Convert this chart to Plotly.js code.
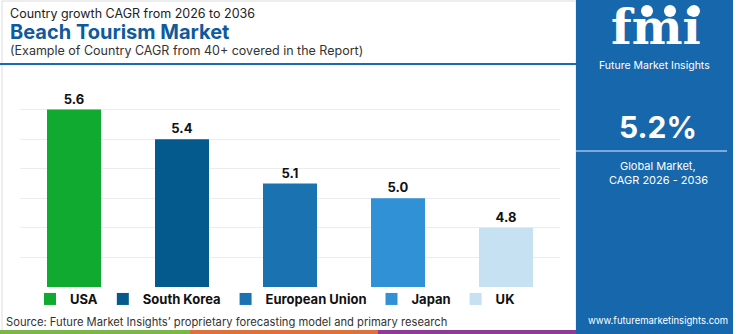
<!DOCTYPE html>
<html>
<head>
<meta charset="utf-8">
<script src="https://cdn.plot.ly/plotly-3.0.1.min.js"></script>
<style>html,body{margin:0;padding:0;background:#fff;}#chart{width:750px;height:334px;}</style>
</head>
<body>
<div id="chart"></div>
<script>
// ---- data ----
const categories = ["USA", "South Korea", "European Union", "Japan", "UK"];
const cagrValues = [5.6, 5.4, 5.1, 5.0, 4.8];
const barColors = ["#10aa30", "#045a8d", "#1a73b0", "#3191d6", "#c5e1f2"];
const globalCagr = "5.2%";
const titleLine1 = "Country growth CAGR from 2026 to 2036";
const titleLine2 = "Beach Tourism Market";
const titleLine3 = "(Example of Country CAGR from 40+ covered in the Report)";
const sourceText = "Source: Future Market Insights\u2019 proprietary forecasting model and primary research";

// ---- layout geometry helpers ----
const W = 750, H = 334;
const M = {l: 20, r: 190, t: 80, b: 47};
const PW = W - M.l - M.r, PH = H - M.t - M.b;
const px = x => (x - M.l) / PW;
const py = y => (H - M.b - y) / PH;

const FONT = "Inter, 'Open Sans', sans-serif";
const PANEL = "#1767ac";

const traces = categories.map((c, i) => ({
  type: "bar",
  name: c,
  x: [c],
  y: [cagrValues[i]],
  width: 0.5,
  marker: {color: barColors[i], line: {width: 8, color: "rgba(0,0,0,0)"}},
  text: [cagrValues[i].toFixed(1)],
  textposition: "outside",
  cliponaxis: false,
  textfont: {family: FONT, size: 13, color: "#111", weight: 700},
  hoverinfo: "skip"
}));

const shapes = [
  // light frame
  {type: "rect", xref: "paper", yref: "paper", x0: px(2), x1: px(576), y0: py(331), y1: py(1),
   line: {color: "#dcdcdc", width: 1}, layer: "below"},
  // title underline
  {type: "line", xref: "paper", yref: "paper", x0: px(0), x1: px(576), y0: py(64), y1: py(64),
   line: {color: "#1a6cb0", width: 2}},
  // right panel
  {type: "rect", xref: "paper", yref: "paper", x0: px(576), x1: px(733), y0: py(0), y1: py(334),
   fillcolor: PANEL, line: {width: 0}},
  {type: "line", xref: "paper", yref: "paper", x0: px(576), x1: px(727), y0: py(151), y1: py(151),
   line: {color: "#9cc3e6", width: 1.5}},
  // logo dots
  {type: "circle", xref: "paper", yref: "paper", x0: px(641), x1: px(653), y0: py(5), y1: py(17),
   fillcolor: "#ffffff", line: {width: 0}},
  {type: "circle", xref: "paper", yref: "paper", x0: px(664), x1: px(676), y0: py(5), y1: py(17),
   fillcolor: "#ffffff", line: {width: 0}},
  {type: "circle", xref: "paper", yref: "paper", x0: px(688), x1: px(700), y0: py(5), y1: py(17),
   fillcolor: "#ffffff", line: {width: 0}},
  // bottom colour strip
  {type: "rect", xref: "paper", yref: "paper", x0: px(0), x1: px(190), y0: py(334), y1: py(330),
   fillcolor: "#7ab648", line: {width: 0}},
  {type: "rect", xref: "paper", yref: "paper", x0: px(190), x1: px(378), y0: py(334), y1: py(330),
   fillcolor: "#e0703a", line: {width: 0}},
  {type: "rect", xref: "paper", yref: "paper", x0: px(378), x1: px(576), y0: py(334), y1: py(330),
   fillcolor: "#8e3a96", line: {width: 0}}
];

const ann = (text, x, y, size, color, opts) => Object.assign({
  text, xref: "paper", yref: "paper", x: px(x), y: py(y), showarrow: false,
  xanchor: "left", yanchor: "middle", font: {family: FONT, size, color}
}, opts || {});

const annotations = [
  ann(titleLine1, 8, 14, 12.5, "#222"),
  ann("<b>" + titleLine2 + "</b>", 8, 32, 20, "#0f5a9c"),
  ann(titleLine3, 8, 50, 12.5, "#333"),
  ann(sourceText, 4, 322, 11.2, "#333"),
  // panel text
  ann("<b>fmi</b>", 656, 57, 48, "#ffffff", {xanchor: "center", yanchor: "bottom", font: {family: "'DejaVu Serif', serif", size: 48, color: "#fff"}}),
  ann("Future Market Insights", 655, 66, 10.5, "#ffffff", {xanchor: "center"}),
  ann("<b>" + globalCagr + "</b>", 658, 127, 30, "#ffffff", {xanchor: "center"}),
  ann("Global Market,", 658, 166, 11, "#ffffff", {xanchor: "center"}),
  ann("CAGR 2026 - 2036", 658, 180, 11, "#ffffff", {xanchor: "center"}),
  ann("www.futuremarketinsights.com", 658, 320, 9.5, "#ffffff", {xanchor: "center"})
];

const layout = {
  width: W, height: H,
  margin: M,
  paper_bgcolor: "#ffffff",
  plot_bgcolor: "#ffffff",
  barmode: "overlay",
  showlegend: true,
  legend: {
    orientation: "h", x: px(30), y: py(299), xanchor: "left", yanchor: "middle",
    font: {family: FONT, size: 13, color: "#111", weight: 700},
    bgcolor: "rgba(0,0,0,0)", traceorder: "normal"
  },
  xaxis: {
    type: "category", categoryorder: "array", categoryarray: categories,
    showticklabels: false, showgrid: false, zeroline: false, showline: false, ticks: ""
  },
  yaxis: {
    range: [4.4, 5.8], dtick: 0.2, tick0: 4.4,
    showticklabels: false, showgrid: true, gridcolor: "#ececec", gridwidth: 1,
    zeroline: false, showline: false, ticks: ""
  },
  shapes, annotations
};

Plotly.newPlot("chart", traces, layout, {staticPlot: true, displayModeBar: false});
</script>
</body>
</html>
